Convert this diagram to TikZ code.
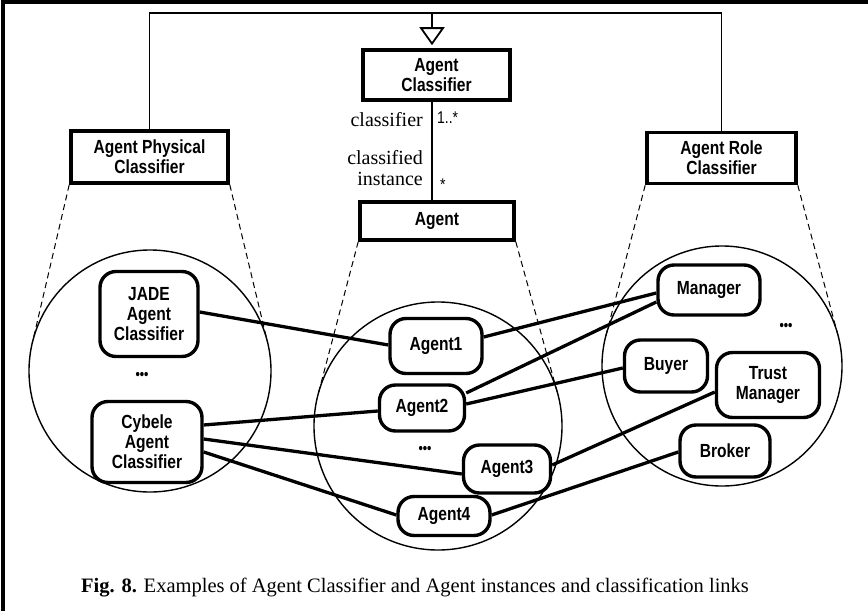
\documentclass[tikz,border=0pt]{standalone}
\usepackage{fontspec}
\setmainfont{Liberation Serif}
\setsansfont{Liberation Sans}[FakeStretch=0.82]
\usetikzlibrary{arrows.meta,calc}
\begin{document}
\begin{tikzpicture}[x=1pt,y=-1pt,
  classbox/.style={draw,line width=3.6pt,fill=white,inner sep=0pt,font=\sffamily\bfseries\fontsize{19}{20}\selectfont,align=center},
  inst/.style={draw,line width=3.4pt,rounded corners=16pt,inner sep=0pt,font=\sffamily\bfseries\fontsize{19}{20}\selectfont,align=center},
  zone/.style={draw,circle,line width=1.4pt,inner sep=0pt,outer sep=0pt},
  link/.style={line width=3.3pt},
  tree/.style={line width=1.8pt},
  cone/.style={line width=1pt,dash pattern=on 6pt off 4pt},
  role/.style={font=\fontsize{20}{21}\selectfont,align=right,inner sep=0pt},
  mult/.style={font=\sffamily\fontsize{17}{17}\selectfont,inner sep=0pt},
  dots/.style={font=\sffamily\bfseries\fontsize{15}{15}\selectfont,inner sep=0pt}]
\useasboundingbox (0,0) rectangle (868,611);
% frame
\draw[line width=4pt] (3,611) -- (3,2) -- (868,2);

% classifiers
\node[classbox,minimum width=147pt,minimum height=50pt] (ac) at (436.5,75) {Agent\\Classifier};
\node[classbox,minimum width=157pt,minimum height=52pt] (apc) at (149.5,157) {Agent Physical\\Classifier};
\node[classbox,minimum width=149pt,minimum height=51pt] (arc) at (721.5,158) {Agent Role\\Classifier};
\node[classbox,minimum width=154pt,minimum height=38pt] (ag) at (437,221) {Agent};

% generalization
\coordinate (gtop) at (432,13);
\draw[tree] (apc.north) |- (gtop) -| (arc.north);
\draw[tree,-{Triangle[open,width=25pt,length=18pt]},shorten >=3pt] (gtop) -- (ac.north -| gtop);

% association
\draw[line width=1.8pt] (ac.south -| gtop) -- (ag.north -| gtop);
\node[role,anchor=east] (r1) at (423,120) {classifier};
\node[mult,anchor=west] (m1) at (437,118) {1..*};
\node[role,anchor=east] (r2) at (423,168) {classified\\instance};
\node[mult,anchor=west] (m2) at (440,185) {*};

% zones of instances
\node[zone,minimum size=242pt] (cL) at (150,371) {};
\node[zone,minimum size=248pt] (cM) at (438,426) {};
\node[zone,minimum size=240pt] (cR) at (722,366) {};

% cones
\draw[cone] (apc.south west) -- (tangent cs:node=cL,point={(apc.south west)},solution=1);
\draw[cone] (apc.south east) -- (tangent cs:node=cL,point={(apc.south east)},solution=2);
\draw[cone] (ag.south west) -- (tangent cs:node=cM,point={(ag.south west)},solution=1);
\draw[cone] (ag.south east) -- (tangent cs:node=cM,point={(ag.south east)},solution=2);
\draw[cone] (arc.south west) -- (tangent cs:node=cR,point={(arc.south west)},solution=1);
\draw[cone] (arc.south east) -- (tangent cs:node=cR,point={(arc.south east)},solution=2);

% classifier instances
\node[inst,minimum width=98pt,minimum height=85pt] (jade) at (149,314) {JADE\\Agent\\Classifier};
\node[dots] (dL) at (142,376) {•••};
\node[inst,minimum width=110pt,minimum height=81pt] (cyb) at (147,442) {Cybele\\Agent\\Classifier};

% agent instances
\node[inst,minimum width=92pt,minimum height=55pt] (a1) at (436,346) {Agent1};
\node[inst,minimum width=85pt,minimum height=46pt] (a2) at (422,408) {Agent2};
\node[dots] (dM) at (425,450) {•••};
\node[inst,minimum width=87pt,minimum height=48pt] (a3) at (507,469) {Agent3};
\node[inst,minimum width=92pt,minimum height=39pt] (a4) at (444,516) {Agent4};

% role instances
\node[inst,minimum width=102pt,minimum height=50pt] (man) at (709,290) {Manager};
\node[dots] (dR) at (786,327) {•••};
\node[inst,minimum width=83pt,minimum height=52pt] (buy) at (666,366) {Buyer};
\node[inst,minimum width=103pt,minimum height=65pt] (tm) at (768,385) {Trust\\Manager};
\node[inst,minimum width=90pt,minimum height=52pt] (bro) at (725,451) {Broker};

% classification links
\draw[link] ([yshift=2pt]jade.east) -- ([yshift=1pt]a1.west);
\draw[link] ([yshift=17pt]cyb.east) -- ([yshift=-3pt]a2.west);
\draw[link] ([yshift=3pt]cyb.east) -- ([yshift=-5pt]a3.west);
\draw[link] ([yshift=-10pt]cyb.east) -- ([yshift=1pt]a4.west);
\draw[link] ([yshift=9pt]a1.east) -- ([yshift=-3pt]man.west);
\draw[link] ([yshift=15pt]a2.east) -- ([yshift=-12pt]man.west);
\draw[link] ([yshift=4pt]a2.east) -- ([yshift=-2pt]buy.west);
\draw[link] ([yshift=4pt]a3.east) -- ([yshift=-7pt]tm.west);
\draw[link] ([yshift=1pt]a4.east) -- ([yshift=-1pt]bro.west);

% caption
\node[font=\fontsize{20.5}{21}\selectfont,inner sep=0pt] (cap) at (415,588) {\textbf{Fig. 8.} Examples of Agent Classifier and Agent instances and classification links};
\end{tikzpicture}
\end{document}
